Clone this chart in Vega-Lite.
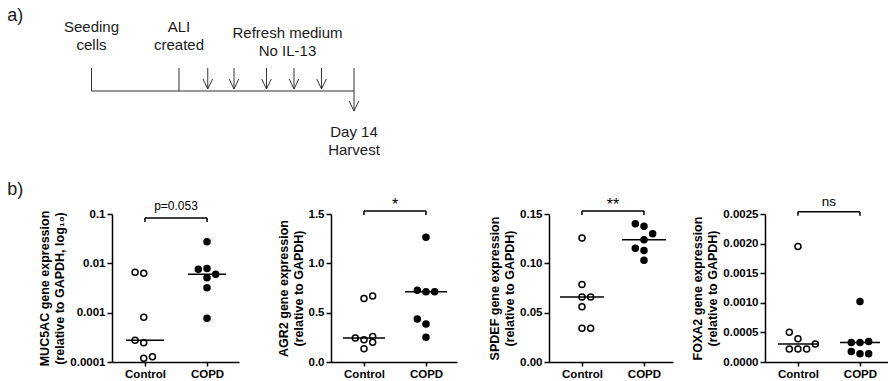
{
  "$schema": "https://vega.github.io/schema/vega-lite/v6.json",
  "padding": 0,
  "background": "white",
  "config": {
    "font": "Liberation Sans",
    "view": {"stroke": null},
    "axis": {
      "grid": false, "domainColor": "black", "domainWidth": 1.5,
      "tickColor": "black", "tickWidth": 1.5, "tickSize": 5,
      "labelColor": "black", "labelFont": "Liberation Sans", "labelFontSize": 11.5, "labelFontWeight": "bold",
      "labelPadding": 2, "labelFlush": false, "labelOverlap": false,
      "titleColor": "black", "titleFont": "Liberation Sans", "titleFontSize": 12.5, "titleFontWeight": "bold",
      "titleLineHeight": 15, "titlePadding": 3
    },
    "axisX": {"tickSize": 4},
    "axisY": {"tickCount": 12}
  },
  "datasets": {
    "muc5ac": [
      {"group": "Control", "g": 1, "pos": 0.84, "value": 0.0066},
      {"group": "Control", "g": 1, "pos": 0.98, "value": 0.0063},
      {"group": "Control", "g": 1, "pos": 0.98, "value": 0.00081},
      {"group": "Control", "g": 1, "pos": 0.84, "value": 0.000275},
      {"group": "Control", "g": 1, "pos": 0.98, "value": 0.000246},
      {"group": "Control", "g": 1, "pos": 0.98, "value": 0.000119},
      {"group": "Control", "g": 1, "pos": 1.12, "value": 0.000128},
      {"group": "COPD", "g": 2, "pos": 2.0, "value": 0.0275},
      {"group": "COPD", "g": 2, "pos": 1.86, "value": 0.0076},
      {"group": "COPD", "g": 2, "pos": 2.0, "value": 0.0079},
      {"group": "COPD", "g": 2, "pos": 2.14, "value": 0.006},
      {"group": "COPD", "g": 2, "pos": 2.0, "value": 0.0051},
      {"group": "COPD", "g": 2, "pos": 2.0, "value": 0.0032},
      {"group": "COPD", "g": 2, "pos": 2.0, "value": 0.00077}
    ],
    "agr2": [
      {"group": "Control", "g": 1, "pos": 1.0, "value": 0.644},
      {"group": "Control", "g": 1, "pos": 1.14, "value": 0.668},
      {"group": "Control", "g": 1, "pos": 0.86, "value": 0.242},
      {"group": "Control", "g": 1, "pos": 1.14, "value": 0.258},
      {"group": "Control", "g": 1, "pos": 1.0, "value": 0.225},
      {"group": "Control", "g": 1, "pos": 1.14, "value": 0.201},
      {"group": "Control", "g": 1, "pos": 1.0, "value": 0.134},
      {"group": "COPD", "g": 2, "pos": 2.0, "value": 1.265},
      {"group": "COPD", "g": 2, "pos": 1.86, "value": 0.728},
      {"group": "COPD", "g": 2, "pos": 2.0, "value": 0.711},
      {"group": "COPD", "g": 2, "pos": 2.14, "value": 0.711},
      {"group": "COPD", "g": 2, "pos": 1.86, "value": 0.436},
      {"group": "COPD", "g": 2, "pos": 2.0, "value": 0.386},
      {"group": "COPD", "g": 2, "pos": 2.0, "value": 0.252}
    ],
    "spdef": [
      {"group": "Control", "g": 1, "pos": 1.0, "value": 0.1258},
      {"group": "Control", "g": 1, "pos": 1.0, "value": 0.0785},
      {"group": "Control", "g": 1, "pos": 1.0, "value": 0.066},
      {"group": "Control", "g": 1, "pos": 1.14, "value": 0.066},
      {"group": "Control", "g": 1, "pos": 1.0, "value": 0.056},
      {"group": "Control", "g": 1, "pos": 1.0, "value": 0.0342},
      {"group": "Control", "g": 1, "pos": 1.14, "value": 0.0342},
      {"group": "COPD", "g": 2, "pos": 1.86, "value": 0.14},
      {"group": "COPD", "g": 2, "pos": 2.0, "value": 0.1375},
      {"group": "COPD", "g": 2, "pos": 2.14, "value": 0.13},
      {"group": "COPD", "g": 2, "pos": 2.0, "value": 0.124},
      {"group": "COPD", "g": 2, "pos": 1.86, "value": 0.1154},
      {"group": "COPD", "g": 2, "pos": 2.0, "value": 0.113},
      {"group": "COPD", "g": 2, "pos": 2.0, "value": 0.103}
    ],
    "foxa2": [
      {"group": "Control", "g": 1, "pos": 1.0, "value": 0.00195},
      {"group": "Control", "g": 1, "pos": 0.86, "value": 0.000503},
      {"group": "Control", "g": 1, "pos": 1.0, "value": 0.000391},
      {"group": "Control", "g": 1, "pos": 0.86, "value": 0.000218},
      {"group": "Control", "g": 1, "pos": 1.0, "value": 0.000218},
      {"group": "Control", "g": 1, "pos": 1.14, "value": 0.000218},
      {"group": "Control", "g": 1, "pos": 1.28, "value": 0.000302},
      {"group": "COPD", "g": 2, "pos": 2.0, "value": 0.00102},
      {"group": "COPD", "g": 2, "pos": 1.86, "value": 0.000329},
      {"group": "COPD", "g": 2, "pos": 2.0, "value": 0.000329},
      {"group": "COPD", "g": 2, "pos": 2.14, "value": 0.000346},
      {"group": "COPD", "g": 2, "pos": 1.86, "value": 0.000178},
      {"group": "COPD", "g": 2, "pos": 2.0, "value": 0.000139},
      {"group": "COPD", "g": 2, "pos": 2.14, "value": 0.000139}
    ]
  },
  "bounds": "flush",
  "spacing": 44,
  "vconcat": [
    {
      "width": 888,
      "height": 170,
      "layer": [
        {
          "data": {"values": [
            {"x": -7, "x2": 14, "y": 91, "y2": 91},
            {"x": -7, "x2": -7, "y": 68, "y2": 91},
            {"x": 0, "x2": 0, "y": 68, "y2": 91},
            {"x": 14, "x2": 14, "y": 68, "y2": 111},
            {"x": 2.3, "x2": 2.3, "y": 68, "y2": 89},
            {"x": 4.4, "x2": 4.4, "y": 68, "y2": 89},
            {"x": 7, "x2": 7, "y": 68, "y2": 89},
            {"x": 9.2, "x2": 9.2, "y": 68, "y2": 89},
            {"x": 11.4, "x2": 11.4, "y": 68, "y2": 89}
          ]},
          "mark": {"type": "rule", "color": "#333333", "strokeWidth": 1},
          "encoding": {
            "x": {"field": "x", "type": "quantitative", "scale": {"domain": [-14.32, 56.72], "nice": false, "zero": false}, "axis": null},
            "x2": {"field": "x2"},
            "y": {"field": "y", "type": "quantitative", "scale": {"domain": [0, 170], "reverse": true, "nice": false, "zero": false}, "axis": null},
            "y2": {"field": "y2"}
          }
        },
        {
          "data": {"values": [
            {"x": 2.3, "y": 89}, {"x": 4.4, "y": 89}, {"x": 7, "y": 89},
            {"x": 9.2, "y": 89}, {"x": 11.4, "y": 89}, {"x": 14, "y": 111}
          ]},
          "mark": {"type": "point", "shape": "M-1.2,-2.5L0,0L1.2,-2.5", "size": 64, "filled": false, "stroke": "#333333", "strokeWidth": 1, "opacity": 1},
          "encoding": {
            "x": {"field": "x", "type": "quantitative"},
            "y": {"field": "y", "type": "quantitative"}
          }
        },
        {
          "data": {"values": [
            {"x": -7, "y": 27, "label": "Seeding"},
            {"x": -7, "y": 45, "label": "cells"},
            {"x": 0, "y": 27, "label": "ALI"},
            {"x": 0, "y": 45, "label": "created"},
            {"x": 8.68, "y": 33, "label": "Refresh medium"},
            {"x": 8.68, "y": 51, "label": "No IL-13"},
            {"x": 14, "y": 132, "label": "Day 14"},
            {"x": 14, "y": 150, "label": "Harvest"}
          ]},
          "mark": {"type": "text", "fontSize": 15, "align": "center", "baseline": "middle", "color": "#1a1a1a"},
          "encoding": {
            "x": {"field": "x", "type": "quantitative"},
            "y": {"field": "y", "type": "quantitative"},
            "text": {"field": "label"}
          }
        },
        {
          "data": {"values": [
            {"x": -13.75, "y": 16, "label": "a)"},
            {"x": -13.75, "y": 190, "label": "b)"}
          ]},
          "mark": {"type": "text", "fontSize": 18, "align": "left", "baseline": "middle", "color": "#1a1a1a"},
          "encoding": {
            "x": {"field": "x", "type": "quantitative"},
            "y": {"field": "y", "type": "quantitative"},
            "text": {"field": "label"}
          }
        }
      ]
    },
    {
      "bounds": "flush",
      "spacing": 92,
      "hconcat": [
        {
          "width": 20, "height": 148,
          "data": {"values": [{"t": ""}]},
          "mark": "text",
          "encoding": {"text": {"field": "t", "type": "nominal"}}
        },
        {
          "width": 127, "height": 148,
          "layer": [
            {
              "data": {"name": "muc5ac"},
              "mark": {"type": "point", "shape": "circle", "filled": true, "size": 36, "stroke": "black", "strokeWidth": 1.5, "opacity": 1},
              "encoding": {
                "x": {"field": "pos", "type": "quantitative", "scale": {"domain": [0.468, 2.516], "nice": false, "zero": false},
                      "axis": {"values": [1, 2], "labelExpr": "datum.value == 1 ? 'Control' : 'COPD'", "title": null}},
                "y": {"field": "value", "type": "quantitative", "scale": {"type": "log", "domain": [0.0001, 0.1], "nice": false},
                      "axis": {"values": [0.0001, 0.001, 0.01, 0.1], "tickCount": 12, "format": "~g", "title": ["MUC5AC gene expression", "(relative to GAPDH, log₁₀)"]}},
                "fill": {"field": "group", "type": "nominal", "scale": {"domain": ["Control", "COPD"], "range": ["white", "black"]}, "legend": null}
              }
            },
            {
              "data": {"name": "muc5ac"},
              "mark": {"type": "tick", "orient": "horizontal", "size": 38, "thickness": 1.5, "color": "black", "opacity": 1},
              "encoding": {
                "x": {"field": "g", "type": "quantitative"},
                "y": {"aggregate": "median", "field": "value", "type": "quantitative"}
              }
            },
            {
              "data": {"values": [
                {"x": 1, "x2": 2, "y": 0.083, "y2": 0.083},
                {"x": 1, "x2": 1, "y": 0.083, "y2": 0.0689},
                {"x": 2, "x2": 2, "y": 0.083, "y2": 0.0689}
              ]},
              "mark": {"type": "rule", "color": "black", "strokeWidth": 1.5},
              "encoding": {
                "x": {"field": "x", "type": "quantitative"}, "x2": {"field": "x2"},
                "y": {"field": "y", "type": "quantitative"}, "y2": {"field": "y2"}
              }
            },
            {
              "data": {"values": [{"x": 1.5, "y": 0.1205, "label": "p=0.053"}]},
              "mark": {"type": "text", "fontSize": 12, "align": "center", "baseline": "alphabetic", "color": "black"},
              "encoding": {
                "x": {"field": "x", "type": "quantitative"},
                "y": {"field": "y", "type": "quantitative"},
                "text": {"field": "label"}
              }
            }
          ]
        },
        {
          "width": 126, "height": 148,
          "layer": [
            {
              "data": {"name": "agr2"},
              "mark": {"type": "point", "shape": "circle", "filled": true, "size": 36, "stroke": "black", "strokeWidth": 1.5, "opacity": 1},
              "encoding": {
                "x": {"field": "pos", "type": "quantitative", "scale": {"domain": [0.468, 2.5], "nice": false, "zero": false},
                      "axis": {"values": [1, 2], "labelExpr": "datum.value == 1 ? 'Control' : 'COPD'", "title": null}},
                "y": {"field": "value", "type": "quantitative", "scale": {"domain": [0, 1.5], "nice": false, "zero": false},
                      "axis": {"values": [0, 0.5, 1, 1.5], "tickCount": 12, "format": ".1f", "title": ["AGR2 gene expression", "(relative to GAPDH)"]}},
                "fill": {"field": "group", "type": "nominal", "scale": {"domain": ["Control", "COPD"], "range": ["white", "black"]}, "legend": null}
              }
            },
            {
              "data": {"name": "agr2"},
              "mark": {"type": "tick", "orient": "horizontal", "size": 42, "thickness": 1.5, "color": "black", "opacity": 1},
              "encoding": {
                "x": {"field": "g", "type": "quantitative"},
                "y": {"aggregate": "median", "field": "value", "type": "quantitative"}
              }
            },
            {
              "data": {"values": [
                {"x": 1, "x2": 2, "y": 1.53, "y2": 1.53},
                {"x": 1, "x2": 1, "y": 1.53, "y2": 1.49},
                {"x": 2, "x2": 2, "y": 1.53, "y2": 1.49}
              ]},
              "mark": {"type": "rule", "color": "black", "strokeWidth": 1.5},
              "encoding": {
                "x": {"field": "x", "type": "quantitative"}, "x2": {"field": "x2"},
                "y": {"field": "y", "type": "quantitative"}, "y2": {"field": "y2"}
              }
            },
            {
              "data": {"values": [{"x": 1.5, "y": 1.541, "label": "*"}]},
              "mark": {"type": "text", "fontSize": 16, "align": "center", "baseline": "alphabetic", "color": "black"},
              "encoding": {
                "x": {"field": "x", "type": "quantitative"},
                "y": {"field": "y", "type": "quantitative"},
                "text": {"field": "label"}
              }
            }
          ]
        },
        {
          "width": 124, "height": 148,
          "layer": [
            {
              "data": {"name": "spdef"},
              "mark": {"type": "point", "shape": "circle", "filled": true, "size": 36, "stroke": "black", "strokeWidth": 1.5, "opacity": 1},
              "encoding": {
                "x": {"field": "pos", "type": "quantitative", "scale": {"domain": [0.468, 2.468], "nice": false, "zero": false},
                      "axis": {"values": [1, 2], "labelExpr": "datum.value == 1 ? 'Control' : 'COPD'", "title": null}},
                "y": {"field": "value", "type": "quantitative", "scale": {"domain": [0, 0.15], "nice": false, "zero": false},
                      "axis": {"values": [0, 0.05, 0.1, 0.15], "tickCount": 12, "format": ".2f", "title": ["SPDEF gene expression", "(relative to GAPDH)"]}},
                "fill": {"field": "group", "type": "nominal", "scale": {"domain": ["Control", "COPD"], "range": ["white", "black"]}, "legend": null}
              }
            },
            {
              "data": {"name": "spdef"},
              "mark": {"type": "tick", "orient": "horizontal", "size": 44, "thickness": 1.5, "color": "black", "opacity": 1},
              "encoding": {
                "x": {"field": "g", "type": "quantitative"},
                "y": {"aggregate": "median", "field": "value", "type": "quantitative"}
              }
            },
            {
              "data": {"values": [
                {"x": 1, "x2": 2, "y": 0.153, "y2": 0.153},
                {"x": 1, "x2": 1, "y": 0.153, "y2": 0.149},
                {"x": 2, "x2": 2, "y": 0.153, "y2": 0.149}
              ]},
              "mark": {"type": "rule", "color": "black", "strokeWidth": 1.5},
              "encoding": {
                "x": {"field": "x", "type": "quantitative"}, "x2": {"field": "x2"},
                "y": {"field": "y", "type": "quantitative"}, "y2": {"field": "y2"}
              }
            },
            {
              "data": {"values": [{"x": 1.5, "y": 0.1541, "label": "**"}]},
              "mark": {"type": "text", "fontSize": 16, "align": "center", "baseline": "alphabetic", "color": "black"},
              "encoding": {
                "x": {"field": "x", "type": "quantitative"},
                "y": {"field": "y", "type": "quantitative"},
                "text": {"field": "label"}
              }
            }
          ]
        },
        {
          "width": 123, "height": 148,
          "layer": [
            {
              "data": {"name": "foxa2"},
              "mark": {"type": "point", "shape": "circle", "filled": true, "size": 36, "stroke": "black", "strokeWidth": 1.5, "opacity": 1},
              "encoding": {
                "x": {"field": "pos", "type": "quantitative", "scale": {"domain": [0.468, 2.452], "nice": false, "zero": false},
                      "axis": {"values": [1, 2], "labelExpr": "datum.value == 1 ? 'Control' : 'COPD'", "title": null}},
                "y": {"field": "value", "type": "quantitative", "scale": {"domain": [0, 0.0025], "nice": false, "zero": false},
                      "axis": {"values": [0, 0.0005, 0.001, 0.0015, 0.002, 0.0025], "tickCount": 12, "format": ".4f", "title": ["FOXA2 gene expression", "(relative to GAPDH)"]}},
                "fill": {"field": "group", "type": "nominal", "scale": {"domain": ["Control", "COPD"], "range": ["white", "black"]}, "legend": null}
              }
            },
            {
              "data": {"name": "foxa2"},
              "mark": {"type": "tick", "orient": "horizontal", "size": 40, "thickness": 1.5, "color": "black", "opacity": 1},
              "encoding": {
                "x": {"field": "g", "type": "quantitative"},
                "y": {"aggregate": "median", "field": "value", "type": "quantitative"}
              }
            },
            {
              "data": {"values": [
                {"x": 1, "x2": 2, "y": 0.002539, "y2": 0.002539},
                {"x": 1, "x2": 1, "y": 0.002539, "y2": 0.002471},
                {"x": 2, "x2": 2, "y": 0.002539, "y2": 0.002471}
              ]},
              "mark": {"type": "rule", "color": "black", "strokeWidth": 1.5},
              "encoding": {
                "x": {"field": "x", "type": "quantitative"}, "x2": {"field": "x2"},
                "y": {"field": "y", "type": "quantitative"}, "y2": {"field": "y2"}
              }
            },
            {
              "data": {"values": [{"x": 1.5, "y": 0.002635, "label": "ns"}]},
              "mark": {"type": "text", "fontSize": 13.5, "align": "center", "baseline": "alphabetic", "color": "black"},
              "encoding": {
                "x": {"field": "x", "type": "quantitative"},
                "y": {"field": "y", "type": "quantitative"},
                "text": {"field": "label"}
              }
            }
          ]
        }
      ]
    }
  ]
}
